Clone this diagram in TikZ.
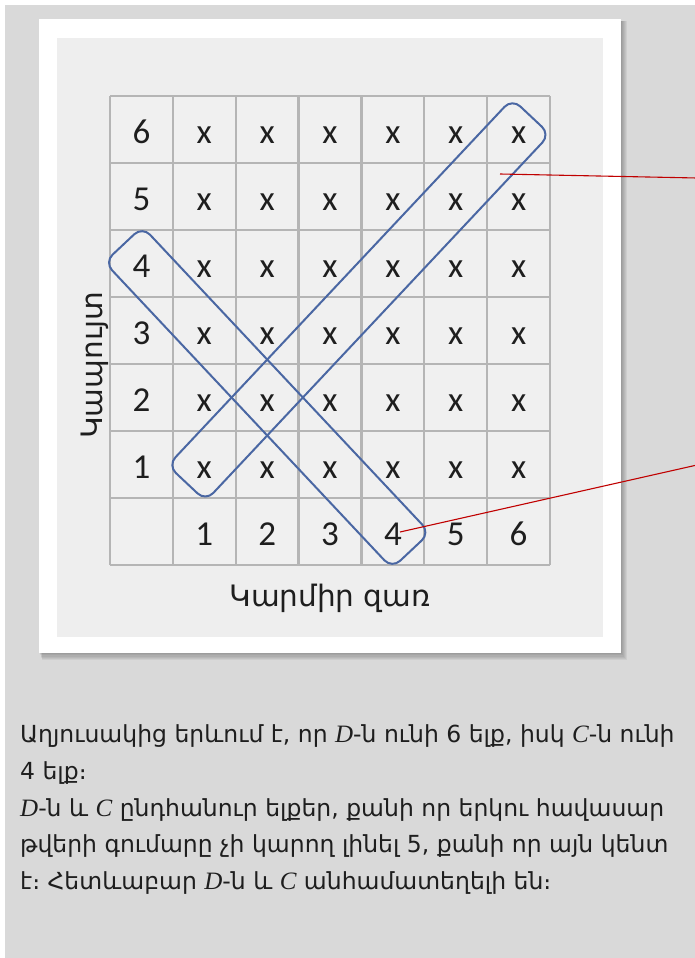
\documentclass[tikz,border=0pt]{standalone}
\usepackage{fontspec}
\newfontfamily\armfont{DejaVu Sans}
\newfontfamily\calfont{Carlito}
\newfontfamily\varfont{Liberation Serif}
\newcommand{\vv}[1]{{\varfont\itshape\fontsize{25}{25}\selectfont #1}}
\definecolor{bggray}{HTML}{D9D9D9}
\definecolor{panelgray}{HTML}{EEEEEE}
\definecolor{cellgray}{HTML}{F0F0F0}
\definecolor{gridgray}{HTML}{B5B5B5}
\definecolor{boxblue}{HTML}{4A67A3}
\definecolor{linered}{HTML}{C00000}
\definecolor{txt}{HTML}{1E1E1E}
\begin{document}
\begin{tikzpicture}[x=1pt,y=-1pt,
  gridline/.style={draw=gridgray,line width=2.2pt},
  celltext/.style={anchor=base,inner sep=0pt,text=txt,font=\calfont\fontsize{35}{35}\selectfont},
  bluebox/.style={draw=boxblue,line width=2pt,rounded corners=11pt,minimum height=52pt,inner sep=0pt},
  redline/.style={draw=linered,line width=1.1pt},
  axislabel/.style={inner sep=0pt,text=txt,font=\armfont\fontsize{29.5}{29.5}\selectfont},
  bodyline/.style={anchor=base west,inner sep=0pt,text=txt,font=\armfont\fontsize{23.5}{23.5}\selectfont}]
\useasboundingbox (0,0) rectangle (695,958);
\fill[white] (0,0) rectangle (695,958);
\fill[bggray] (5,5) rectangle (695,958);
% card shadow
\foreach \i in {1,...,6}
  \fill[black,opacity=0.05] (39+\i*0.5,21) rectangle (621+\i,653+\i*1.2);
\fill[white] (39,19) rectangle (621,653);
\fill[panelgray] (57,38) rectangle (603,637);
% grid
\fill[cellgray] (110,96) rectangle (550,565);
\foreach \c in {0,...,7}
  \draw[gridline] (110+\c*62.86,96) -- (110+\c*62.86,565);
\foreach \r in {0,...,7}
  \draw[gridline] (110,96+\r*67) -- (550,96+\r*67);
% row labels
\foreach \r/\v in {0/6,1/5,2/4,3/3,4/2,5/1}
  \node[celltext] (row\v) at (110+0.5*62.86,96+\r*67+47) {\v};
% column labels
\foreach \c in {1,...,6}
  \node[celltext] (col\c) at (110+\c*62.86+0.5*62.86,96+6*67+47) {\c};
% x entries
\foreach \r in {0,...,5}
  \foreach \c in {1,...,6}
    \node[celltext] (x\r\c) at (110+\c*62.86+0.5*62.86,96+\r*67+47) {x};
% blue boxes
\node[bluebox,minimum width=503pt,rotate=46.8] (boxD) at (358.9,299.9) {};
\node[bluebox,minimum width=420pt,rotate=-46.8] (boxC) at (267.2,397.5) {};
% red pointers
\coordinate (pD) at (500,174);
\coordinate (eD) at (697,178);
\coordinate (pC) at (400,532);
\coordinate (eC) at (697,465);
\draw[redline] (pD) -- (eD);
\draw[redline] (pC) -- (eC);
% axis labels
\node[axislabel,rotate=90] (ylab) at (95,365) {Կապույտ};
\node[axislabel,anchor=base] (xlab) at (330,606) {Կարմիր զառ};
% body text
\node[bodyline] (l1) at (20,742) {Աղյուսակից երևում է, որ \vv{D}-ն ունի 6 ելք, իսկ \vv{C}-ն ունի};
\node[bodyline] (l2) at (20,779) {4 ելք։};
\node[bodyline] (l3) at (20,816) {\vv{D}-ն և \vv{C} ընդհանուր ելքեր, քանի որ երկու հավասար};
\node[bodyline] (l4) at (20,852) {թվերի գումարը չի կարող լինել 5, քանի որ այն կենտ};
\node[bodyline] (l5) at (20,889) {է։ Հետևաբար \vv{D}-ն և \vv{C} անհամատեղելի են։};
\end{tikzpicture}
\end{document}
